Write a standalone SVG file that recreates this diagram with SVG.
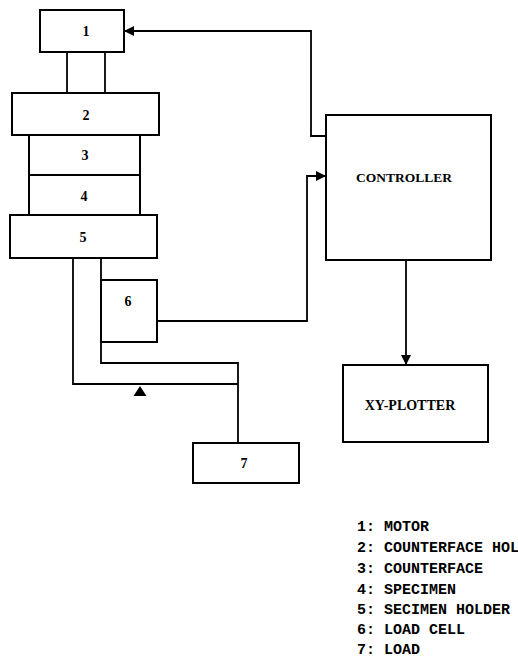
<svg xmlns="http://www.w3.org/2000/svg" width="518" height="661" viewBox="0 0 518 661">
<style>
.box{fill:none;stroke:#000;stroke-width:2}
.ln{fill:none;stroke:#000;stroke-width:1.8}
.num{font-family:"Liberation Serif",serif;font-weight:bold;font-size:14px;text-anchor:middle;fill:#000}
.lbl{font-family:"Liberation Serif",serif;font-weight:bold;font-size:13.5px;text-anchor:middle;fill:#000}
.leg{font-family:"Liberation Mono","Courier New",monospace;font-weight:bold;font-size:15px;fill:#000}
</style>
<defs>
<marker id="ah" viewBox="0 0 10 10" refX="10" refY="5" markerWidth="10" markerHeight="10" markerUnits="userSpaceOnUse" orient="auto">
<path d="M0,0 L10,5 L0,10 z" fill="#000"/>
</marker>
</defs>
<rect width="518" height="661" fill="#fff"/>
<g id="n1"><rect class="box" x="40" y="10" width="84" height="42"/><text class="num" x="86" y="36">1</text></g>
<g id="shaft"><line class="ln" x1="67" y1="52" x2="67" y2="93"/><line class="ln" x1="105" y1="52" x2="105" y2="93"/></g>
<g id="n2"><rect class="box" x="12" y="93" width="147" height="42"/><text class="num" x="86" y="120">2</text></g>
<g id="n3"><rect class="box" x="29" y="135" width="111" height="40"/><text class="num" x="85" y="160">3</text></g>
<g id="n4"><rect class="box" x="29" y="175" width="111" height="40"/><text class="num" x="84" y="201">4</text></g>
<g id="n5"><rect class="box" x="10" y="215" width="147" height="43"/><text class="num" x="83" y="242">5</text></g>
<g id="n6"><rect class="box" x="101" y="280" width="56" height="62"/><text class="num" x="128" y="306">6</text></g>
<g id="n7"><rect class="box" x="193" y="443" width="106" height="40"/><text class="num" x="244" y="468">7</text></g>
<g id="controller"><rect class="box" x="326" y="115" width="165" height="145"/><text class="lbl" x="404" y="182">CONTROLLER</text></g>
<g id="plotter"><rect class="box" x="343" y="365" width="145" height="77"/><text class="num" x="410" y="410">XY-PLOTTER</text></g>
<g id="connectors">
<polyline class="ln" points="326,136 311,136 311,31 124,31" marker-end="url(#ah)"/>
<polyline class="ln" points="157,321 307,321 307,176 326,176" marker-end="url(#ah)"/>
<line class="ln" x1="406" y1="260" x2="406" y2="365" marker-end="url(#ah)"/>
<polyline class="ln" points="73,258 73,384 238,384"/>
<polyline class="ln" points="101,258 101,363 238,363 238,443"/>
<path d="M140,386 L146.5,396 L133.5,396 z" fill="#000"/>
</g>
<g id="legend">
<text class="leg" x="357" y="531">1: MOTOR</text>
<text class="leg" x="357" y="552">2: COUNTERFACE HOL</text>
<text class="leg" x="357" y="573">3: COUNTERFACE</text>
<text class="leg" x="357" y="594">4: SPECIMEN</text>
<text class="leg" x="357" y="614">5: SECIMEN HOLDER</text>
<text class="leg" x="357" y="634">6: LOAD CELL</text>
<text class="leg" x="357" y="654">7: LOAD</text>
</g>
</svg>
